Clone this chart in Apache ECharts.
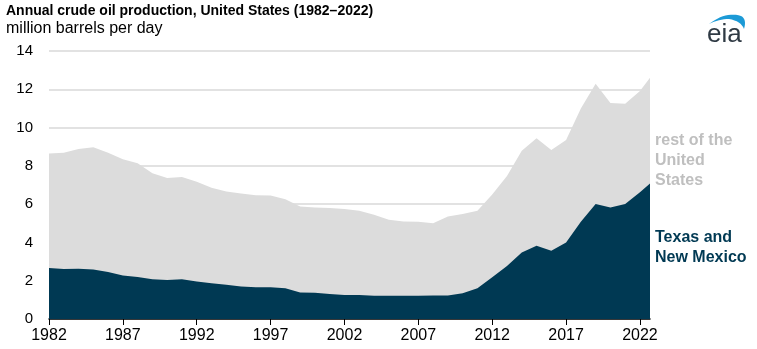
<!DOCTYPE html>
<html>
<head>
<meta charset="utf-8">
<script src="https://cdn.jsdelivr.net/npm/echarts@6/dist/echarts.min.js"></script>
<style>
html,body{margin:0;padding:0;background:#fff;}
#chart{width:757px;height:349px;}
</style>
</head>
<body>
<div id="chart"></div>
<script>
// Years (2023 included; axis is cut partway into 2023 as in the source)
const years = [1982,1983,1984,1985,1986,1987,1988,1989,1990,1991,1992,1993,1994,1995,1996,1997,1998,1999,2000,2001,2002,2003,2004,2005,2006,2007,2008,2009,2010,2011,2012,2013,2014,2015,2016,2017,2018,2019,2020,2021,2022,2023];
// Total US crude oil production, million barrels per day
const totalUS = [8.65,8.69,8.88,8.97,8.68,8.35,8.14,7.61,7.36,7.42,7.17,6.85,6.66,6.56,6.46,6.45,6.25,5.88,5.82,5.80,5.74,5.65,5.44,5.18,5.09,5.08,5.00,5.35,5.48,5.65,6.50,7.47,8.79,9.44,8.83,9.35,10.99,12.29,11.28,11.25,11.91,12.93];
// Texas and New Mexico
const texasNM = [2.66,2.61,2.62,2.58,2.45,2.27,2.19,2.08,2.04,2.07,1.96,1.87,1.79,1.70,1.66,1.66,1.61,1.39,1.37,1.31,1.26,1.25,1.22,1.21,1.21,1.21,1.23,1.23,1.34,1.60,2.18,2.77,3.48,3.83,3.57,3.99,5.08,6.01,5.83,6.01,6.62,7.30];
const xTicks = [1982,1987,1992,1997,2002,2007,2012,2017,2022];
const yTicks = [0,2,4,6,8,10,12,14];

const font = 'Liberation Sans, Arial, sans-serif';
const chart = echarts.init(document.getElementById('chart'), null, {renderer:'canvas'});
const pairs = arr => years.map((y,i)=>[y,arr[i]]);

// logo swoosh outline (quadratic curves sampled into a polygon)
function quad(p0,c,p1,n){const out=[];for(let i=0;i<=n;i++){const t=i/n,u=1-t;out.push([u*u*p0[0]+2*u*t*c[0]+t*t*p1[0],u*u*p0[1]+2*u*t*c[1]+t*t*p1[1]]);}return out;}
const swoosh = [].concat(
  quad([709,24],[726,11],[741,16],12),
  quad([741,16],[747,19],[744,29],8),
  quad([744,29],[741,21],[729,19],8),
  quad([729,19],[719,19],[709,24],8)
);

chart.setOption({
  animation:false,
  backgroundColor:'#fff',
  grid:{left:49,right:107,top:51,bottom:30,containLabel:false},
  xAxis:{
    type:'value', min:1982, max:2022.68,
    axisLine:{show:true,lineStyle:{color:'#000',width:1.5}},
    axisTick:{show:true,length:6,lineStyle:{color:'#000',width:1},customValues:xTicks},
    axisLabel:{customValues:xTicks,color:'#000',fontFamily:font,fontSize:16,margin:9,formatter:v=>String(Math.round(v))},
    splitLine:{show:false}
  },
  yAxis:{
    type:'value', min:yTicks[0], max:yTicks[yTicks.length-1], interval:2,
    axisLine:{show:false}, axisTick:{show:false},
    axisLabel:{color:'#000',fontFamily:font,fontSize:15,margin:16},
    splitLine:{show:true,lineStyle:{color:'#d9d9d9',width:1.5}}
  },
  series:[
    {type:'line',name:'rest of the United States',data:pairs(totalUS),symbol:'none',
     lineStyle:{width:0},areaStyle:{color:'#dcdcdc',opacity:1},z:2,clip:true},
    {type:'line',name:'Texas and New Mexico',data:pairs(texasNM),symbol:'none',
     lineStyle:{width:0},areaStyle:{color:'#003953',opacity:1},z:3,clip:true}
  ],
  graphic:[
    {type:'text',left:6,top:4,style:{text:'Annual crude oil production, United States (1982–2022)',font:'bold 14px '+font,fill:'#000'}},
    {type:'text',left:6,top:21,style:{text:'million barrels per day',font:'16px '+font,fill:'#000'}},
    {type:'text',left:655,top:131,style:{text:'rest of the\nUnited\nStates',font:'bold 16px '+font,fill:'#bfbfbf',lineHeight:20}},
    {type:'text',left:655,top:228,style:{text:'Texas and\nNew Mexico',font:'bold 16px '+font,fill:'#003953',lineHeight:20}},
    {type:'text',left:707,top:22,style:{text:'eia',font:'26px '+font,fill:'#2f3a44'}},
    {type:'polygon',shape:{points:swoosh},style:{fill:'#1c9ad6'}}
  ]
});
</script>
</body>
</html>
